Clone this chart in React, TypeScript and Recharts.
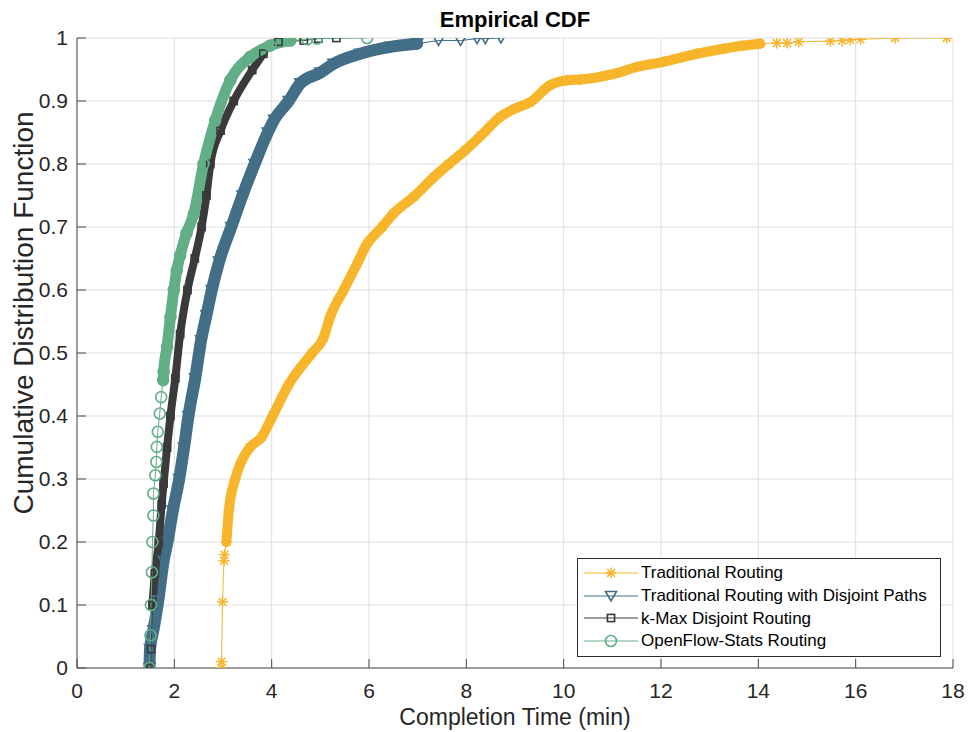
import { LineChart, Line, XAxis, YAxis, CartesianGrid } from "recharts";

const FONT = "'Liberation Sans', Arial, Helvetica, sans-serif";
const TEXT = "#262626";
const AXIS = "#4a4a4a";

const xTicks = [0, 2, 4, 6, 8, 10, 12, 14, 16, 18];
const yTicks = [0, 0.1, 0.2, 0.3, 0.4, 0.5, 0.6, 0.7, 0.8, 0.9, 1];

// completion times (min), with the CDF value at each
const tradX = [
  2.97, 2.97, 2.99, 3.02, 3.03, 3.07, 3.12, 3.25, 3.36, 3.55, 3.8, 4.02, 4.35, 4.83, 5.07, 5.2,
  5.48, 5.79, 5.92, 6.27, 6.5, 6.92, 7.33, 7.64, 7.98, 8.3, 8.7, 9.0, 9.31, 9.72, 10.07, 10.34,
  11.03, 11.5, 12.04, 12.74, 13.29, 13.7, 14.04, 14.38, 14.59, 14.83, 15.48, 15.72, 15.89, 16.1,
  16.81, 17.87,
];
const tradY = [
  0, 0.01, 0.105, 0.17, 0.18, 0.2, 0.25, 0.3, 0.325, 0.35, 0.367, 0.4, 0.45, 0.5, 0.525, 0.557,
  0.6, 0.647, 0.668, 0.7, 0.721, 0.748, 0.779, 0.8, 0.822, 0.845, 0.875, 0.888, 0.898, 0.925,
  0.933, 0.934, 0.943, 0.954, 0.962, 0.975, 0.983, 0.988, 0.991, 0.992, 0.992, 0.994, 0.995,
  0.996, 0.997, 0.998, 1.0, 1.0,
];

const disjX = [
  1.49, 1.5, 1.57, 1.67, 1.78, 1.86, 1.97, 2.1, 2.2, 2.29, 2.43, 2.55, 2.66, 2.77, 2.92, 3.17,
  3.4, 3.65, 3.92, 4.05, 4.35, 4.59, 5.0, 5.27, 5.82, 6.44, 6.99, 7.43, 7.88, 8.22, 8.39, 8.71,
];
const disjY = [
  0, 0.03, 0.06, 0.107, 0.17, 0.2, 0.25, 0.3, 0.35, 0.4, 0.46, 0.52, 0.56, 0.6, 0.645, 0.7,
  0.75, 0.8, 0.85, 0.87, 0.9, 0.928, 0.945, 0.959, 0.975, 0.986, 0.991, 0.996, 0.996, 0.999,
  0.999, 1.0,
];

const kmaxX = [
  1.51, 1.52, 1.55, 1.6, 1.68, 1.74, 1.78, 1.85, 1.92, 2.02, 2.12, 2.27, 2.42, 2.56, 2.66, 2.74,
  2.95, 3.22, 3.6, 3.83, 4.14, 4.66, 4.96, 5.33,
];
const kmaxY = [
  0, 0.03, 0.1, 0.15, 0.2, 0.26, 0.293, 0.35, 0.4, 0.46, 0.53, 0.6, 0.65, 0.7, 0.75, 0.8, 0.853,
  0.9, 0.949, 0.975, 0.994, 0.996, 0.999, 1.0,
];

const ofsX = [
  1.49, 1.51, 1.52, 1.54, 1.55, 1.57, 1.57, 1.61, 1.63, 1.64, 1.66, 1.7, 1.73, 1.77, 1.78, 1.85,
  1.92, 1.99, 2.05, 2.12, 2.25, 2.4, 2.6, 2.84, 3.15, 3.56, 3.97, 4.38, 4.73, 4.93, 5.96,
];
const ofsY = [
  0, 0.052, 0.1, 0.152, 0.2, 0.242, 0.277, 0.306, 0.327, 0.351, 0.375, 0.404, 0.43, 0.457, 0.47,
  0.51, 0.557, 0.6, 0.631, 0.655, 0.69, 0.721, 0.8, 0.869, 0.933, 0.97, 0.988, 0.996, 0.998,
  0.999, 1.0,
];

const seriesNames = [
  "Traditional Routing",
  "Traditional Routing with Disjoint Paths",
  "k-Max Disjoint Routing",
  "OpenFlow-Stats Routing",
];

const toPoints = (xs: number[], ys: number[]) => xs.map((x, i) => ({ x, y: ys[i] }));

type Shape = "star" | "tri" | "square" | "circle";

const series = [
  { name: seriesNames[0], pts: toPoints(tradX, tradY), color: "#f7b52c", shape: "star" as Shape, band: [5, 39], bandW: 10 },
  { name: seriesNames[1], pts: toPoints(disjX, disjY), color: "#426f87", shape: "tri" as Shape, band: [0, 27], bandW: 12 },
  { name: seriesNames[2], pts: toPoints(kmaxX, kmaxY), color: "#3a3a3a", shape: "square" as Shape, band: [2, 20], bandW: 8 },
  { name: seriesNames[3], pts: toPoints(ofsX, ofsY), color: "#62ae87", shape: "circle" as Shape, band: [13, 28], bandW: 11 },
];

function Marker({ shape, cx, cy, color }: { shape: Shape; cx: number; cy: number; color: string }) {
  if (cx == null || cy == null) return null;
  if (shape === "star") {
    const r = 5.5;
    const d = 3.9;
    return (
      <g stroke={color} strokeWidth={1.5}>
        <line x1={cx - r} y1={cy} x2={cx + r} y2={cy} />
        <line x1={cx} y1={cy - r} x2={cx} y2={cy + r} />
        <line x1={cx - d} y1={cy - d} x2={cx + d} y2={cy + d} />
        <line x1={cx - d} y1={cy + d} x2={cx + d} y2={cy - d} />
      </g>
    );
  }
  if (shape === "tri") {
    return (
      <polygon
        points={`${cx - 5.5},${cy - 4.5} ${cx + 5.5},${cy - 4.5} ${cx},${cy + 5}`}
        fill="none"
        stroke={color}
        strokeWidth={1.6}
      />
    );
  }
  if (shape === "square") {
    return <rect x={cx - 3.6} y={cy - 3.6} width={7.2} height={7.2} fill="none" stroke={color} strokeWidth={1.6} />;
  }
  return <circle cx={cx} cy={cy} r={5.5} fill="none" stroke={color} strokeWidth={1.6} />;
}

function LegendBox() {
  return (
    <div
      style={{
        position: "absolute",
        left: 577,
        top: 558,
        width: 362,
        height: 94,
        border: "1px solid #2b2b2b",
        background: "#fff",
        paddingTop: 3,
        boxSizing: "content-box",
        fontFamily: FONT,
        fontSize: 17,
        color: "#000",
      }}
    >
      {series.map((s) => (
        <div key={s.name} style={{ position: "relative", height: 22.7, display: "flex", alignItems: "center" }}>
          <svg width={60} height={22} style={{ position: "absolute", left: 4, top: 0 }}>
            <line x1={2} y1={11} x2={56} y2={11} stroke={s.color} strokeWidth={1} />
            <Marker shape={s.shape} cx={29} cy={11} color={s.color} />
          </svg>
          <span style={{ position: "absolute", left: 63, whiteSpace: "nowrap" }}>{s.name}</span>
        </div>
      ))}
    </div>
  );
}

export default function App() {
  const lines: any[] = [];
  series.forEach((s) => {
    // dense run of overlapping markers drawn as one thick stroke
    lines.push(
      <Line
        key={s.name + "-band"}
        type="monotone"
        data={s.pts.slice(s.band[0], s.band[1])}
        dataKey="y"
        stroke={s.color}
        strokeWidth={s.bandW}
        strokeLinejoin="round"
        strokeLinecap="round"
        dot={false}
        activeDot={false}
        legendType="none"
        isAnimationActive={false}
      />
    );
    lines.push(
      <Line
        key={s.name}
        name={s.name}
        data={s.pts}
        dataKey="y"
        stroke={s.color}
        strokeWidth={1}
        dot={(p: any) => <Marker key={"m" + p.index} shape={s.shape} cx={p.cx} cy={p.cy} color={s.color} />}
        activeDot={false}
        isAnimationActive={false}
      />
    );
  });

  return (
    <div style={{ position: "absolute", left: 0, top: 0, width: 971, height: 732, background: "#fff" }}>
      <LineChart width={971} height={732} margin={{ top: 38, right: 18, bottom: 0, left: 0 }}>
        <CartesianGrid stroke="#dfdfdf" />
        <XAxis
          dataKey="x"
          type="number"
          domain={[0, 18]}
          ticks={xTicks}
          interval={0}
          allowDataOverflow
          height={64}
          tickSize={-9}
          tickMargin={24}
          axisLine={{ stroke: AXIS }}
          tickLine={{ stroke: AXIS }}
          tick={{ fill: TEXT, fontSize: 21, fontFamily: FONT }}
          label={{ value: "Completion Time (min)", position: "insideBottom", offset: 7, fill: TEXT, fontSize: 23, fontFamily: FONT }}
        />
        <XAxis
          xAxisId="top"
          orientation="top"
          type="number"
          domain={[0, 18]}
          ticks={xTicks}
          interval={0}
          allowDataOverflow
          height={0}
          tickSize={-9}
          tick={false}
          axisLine={{ stroke: AXIS }}
          tickLine={{ stroke: AXIS }}
        />
        <YAxis
          type="number"
          domain={[0, 1]}
          ticks={yTicks}
          interval={0}
          allowDataOverflow
          width={77}
          tickSize={-9}
          tickMargin={18}
          axisLine={{ stroke: AXIS }}
          tickLine={{ stroke: AXIS }}
          tick={{ fill: TEXT, fontSize: 21, fontFamily: FONT }}
          label={{
            value: "Cumulative Distribution Function",
            angle: -90,
            position: { x: 33, y: 275 },
            fill: TEXT,
            fontSize: 28,
            fontFamily: FONT,
            style: { textAnchor: "middle" },
          }}
        />
        <YAxis
          yAxisId="right"
          orientation="right"
          type="number"
          domain={[0, 1]}
          ticks={yTicks}
          interval={0}
          allowDataOverflow
          width={0}
          tickSize={-9}
          tick={false}
          axisLine={{ stroke: AXIS }}
          tickLine={{ stroke: AXIS }}
        />
        {lines}
      </LineChart>
      <div
        style={{
          position: "absolute",
          left: 77,
          top: 7,
          width: 876,
          textAlign: "center",
          fontFamily: FONT,
          fontSize: 22,
          fontWeight: "bold",
          lineHeight: "25px",
          color: "#000",
        }}
      >
        Empirical CDF
      </div>
      <LegendBox />
    </div>
  );
}
